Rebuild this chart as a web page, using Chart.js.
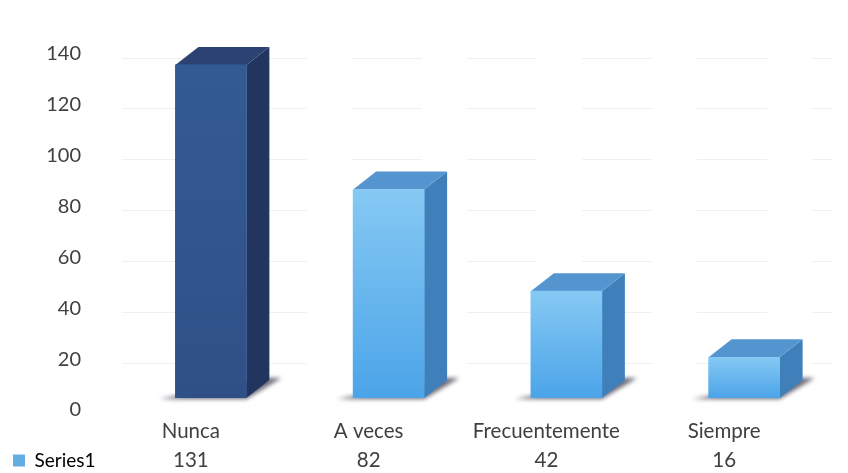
<!DOCTYPE html>
<html>
<head>
<meta charset="utf-8">
<style>
  html, body { margin: 0; background: #fff; }
  canvas { display: block; }
</style>
<script src="https://cdn.jsdelivr.net/npm/chart.js@4"></script>
</head>
<body>
<canvas id="chart" width="848" height="473"></canvas>
<script>
// Data
const categories = ["Nunca", "A veces", "Frecuentemente", "Siempre"];
const values = [131, 82, 42, 16];
const seriesName = "Series1";
const yTicks = [0, 20, 40, 60, 80, 100, 120, 140];

// Colours per bar: front top, front bottom, side, top
const darkBar = ["#345a94", "#2f5087", "#22355f", "#2b4273"];
const lightBar = ["#86c9f4", "#4ba4e8", "#3f80bb", "#5495d0"];
const barColors = [darkBar, lightBar, lightBar, lightBar];

const textColor = "#404040";
const depthX = 23, depthY = 18;

// Gradient of the front face of a bar
function frontFill(ctx) {
  if (ctx.type !== "data") return lightBar[1];
  const c = barColors[ctx.dataIndex];
  const scale = ctx.chart.scales.y;
  const g = ctx.chart.ctx.createLinearGradient(0, scale.getPixelForValue(ctx.raw), 0, scale.getPixelForValue(0));
  g.addColorStop(0, c[0]);
  g.addColorStop(1, c[1]);
  return g;
}

function poly(c, pts, fill) {
  c.fillStyle = fill;
  c.beginPath();
  pts.forEach((p, i) => i ? c.lineTo(p[0], p[1]) : c.moveTo(p[0], p[1]));
  c.closePath();
  c.fill();
}

// Draws shadow, side and top of each bar behind the front face
const extrude = {
  id: "extrude",
  beforeDatasetsDraw(chart) {
    const c = chart.ctx;
    chart.getDatasetMeta(0).data.forEach((bar, i) => {
      const { x, y, base, width } = bar.getProps(["x", "y", "base", "width"], true);
      const l = x - width / 2, r = x + width / 2;
      const col = barColors[i];
      c.save();
      c.filter = "blur(2px)";
      poly(c, [[l - 16, base + 1], [r, base + 1], [r + depthX + 12, base - depthY - 2], [r + depthX, base - depthY - 2]], "#6b6a78");
      c.restore();
      poly(c, [[r, y], [r + depthX, y - depthY], [r + depthX, base - depthY], [r, base]], col[2]);
      poly(c, [[l, y], [l + depthX, y - depthY], [r + depthX, y - depthY], [r, y]], col[3]);
    });
  }
};

// Moves the legend down to the left of the value row
const placeLegend = {
  id: "placeLegend",
  afterLayout(chart) {
    const lg = chart.legend;
    const w = lg.right - lg.left, h = lg.bottom - lg.top;
    lg.left = 3; lg.right = 3 + w;
    lg.top = 441; lg.bottom = 441 + h;
  }
};

new Chart(document.getElementById("chart"), {
  type: "bar",
  data: {
    labels: categories.map((c, i) => [c, String(values[i])]),
    datasets: [{
      label: seriesName,
      data: values,
      backgroundColor: frontFill,
      borderWidth: 0,
      barThickness: 71
    }]
  },
  options: {
    responsive: false,
    animation: false,
    layout: { autoPadding: false, padding: { top: 42, right: 15 } },
    scales: {
      x: {
        grid: { display: false },
        border: { display: false },
        afterFit(scale) { scale.height = 75; },
        ticks: {
          color: textColor,
          font: { family: "Lato", size: 20.5, lineHeight: 1.42 },
          padding: 11,
          labelOffset: -20,
          autoSkip: false,
          maxRotation: 0
        }
      },
      y: {
        min: 0,
        max: 140,
        grid: { display: false },
        border: { display: false },
        afterFit(scale) { scale.width = 122; scale.paddingTop = 0; scale.paddingBottom = 0; },
        afterBuildTicks(scale) { scale.ticks = yTicks.map(v => ({ value: v })); },
        ticks: {
          color: textColor,
          font: { family: "Lato", size: 20 },
          padding: 33,
          labelOffset: 12
        }
      },
      // Only carries the faint back wall lines, which sit a little above the labels' level
      wall: {
        position: "right",
        min: 6.3,
        max: 146.3,
        border: { display: false, dash: [70, 45] },
        afterFit(scale) { scale.width = 0; scale.paddingTop = 0; scale.paddingBottom = 0; },
        afterBuildTicks(scale) { scale.ticks = yTicks.slice(1).map(v => ({ value: v })); },
        grid: { color: "#f0f0f0", drawTicks: false },
        ticks: { display: false }
      }
    },
    plugins: {
      legend: {
        position: "chartArea",
        align: "start",
        labels: {
          color: textColor,
          font: { family: "Lato", size: 19 },
          boxWidth: 12,
          boxHeight: 12,
          padding: 10,
          generateLabels: () => [{ text: seriesName, fillStyle: "#62aee2", strokeStyle: "#62aee2", lineWidth: 0, datasetIndex: 0 }]
        }
      },
      tooltip: { enabled: false }
    }
  },
  plugins: [extrude, placeLegend]
});
</script>
</body>
</html>
